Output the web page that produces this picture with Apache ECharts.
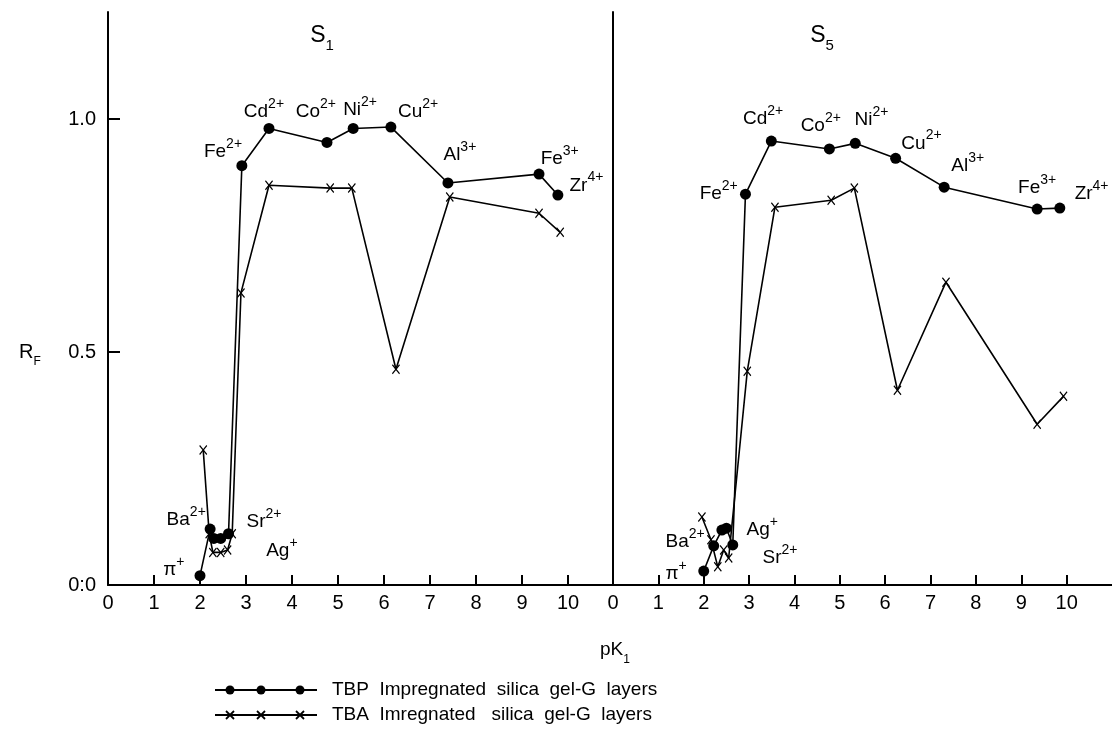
<!DOCTYPE html>
<html>
<head>
<meta charset="utf-8">
<script src="https://cdn.jsdelivr.net/npm/echarts@6/dist/echarts.min.js"></script>
<style>
  html, body { margin: 0; padding: 0; background: #fff; }
  #main { width: 1112px; height: 734px; }
</style>
</head>
<body>
<div id="main"></div>
<script>
// S1 panel, TBP (filled dots) and TBA (x marks): [pK1, Rf]
var tbpS1 = [[2.0, 0.02], [2.22, 0.12], [2.3, 0.10], [2.45, 0.10], [2.62, 0.11], [2.91, 0.90], [3.5, 0.98], [4.76, 0.95], [5.33, 0.98], [6.15, 0.983], [7.39, 0.863], [9.37, 0.882], [9.78, 0.837]];
var tbaS1 = [[2.07, 0.29], [2.2, 0.11], [2.28, 0.07], [2.45, 0.07], [2.6, 0.075], [2.7, 0.11], [2.89, 0.627], [3.5, 0.858], [4.83, 0.852], [5.3, 0.852], [6.26, 0.463], [7.43, 0.833], [9.37, 0.798], [9.83, 0.757]];
// S5 panel
var tbpS5 = [[2.0, 0.03], [2.22, 0.084], [2.4, 0.118], [2.5, 0.122], [2.64, 0.086], [2.92, 0.839], [3.49, 0.953], [4.77, 0.936], [5.34, 0.948], [6.23, 0.916], [7.3, 0.854], [9.35, 0.807], [9.85, 0.809]];
var tbaS5 = [[1.96, 0.146], [2.16, 0.097], [2.31, 0.039], [2.44, 0.075], [2.55, 0.058], [2.96, 0.459], [3.57, 0.811], [4.81, 0.826], [5.32, 0.852], [6.27, 0.418], [7.34, 0.65], [9.35, 0.345], [9.93, 0.405]];

// ion labels: [pK1, Rf, symbol, charge]
var ionsS1 = [[2.5, 0.93, 'Fe', '2+'], [3.39, 1.015, 'Cd', '2+'], [4.52, 1.015, 'Co', '2+'], [5.48, 1.02, 'Ni', '2+'], [6.74, 1.015, 'Cu', '2+'], [7.65, 0.923, 'Al', '3+'], [9.82, 0.915, 'Fe', '3+'], [10.4, 0.858, 'Zr', '4+'], [1.7, 0.14, 'Ba', '2+'], [3.39, 0.135, 'Sr', '2+'], [3.78, 0.073, 'Ag', '+'], [1.43, 0.032, 'π', '+']];
var ionsS5 = [[2.33, 0.839, 'Fe', '2+'], [3.31, 1.0, 'Cd', '2+'], [4.58, 0.985, 'Co', '2+'], [5.7, 0.998, 'Ni', '2+'], [6.8, 0.948, 'Cu', '2+'], [7.82, 0.9, 'Al', '3+'], [9.35, 0.852, 'Fe', '3+'], [10.55, 0.839, 'Zr', '4+'], [1.59, 0.092, 'Ba', '2+'], [3.29, 0.118, 'Ag', '+'], [3.68, 0.058, 'Sr', '2+'], [1.39, 0.024, 'π', '+']];

var xTicks = [0, 1, 2, 3, 4, 5, 6, 7, 8, 9, 10];
var yTicks = [0, 0.5, 1.0];
var yTickLabels = ['0:0', '0.5', '1.0'];

var FONT = 'Liberation Sans';
var INK = '#000';
var crossPath = 'path://M0,1 L1,0 L5,4 L9,0 L10,1 L6,5 L10,9 L9,10 L5,6 L1,10 L0,9 L4,5 Z';

var chart = echarts.init(document.getElementById('main'));

function xAxisCfg(idx) {
    return {
        type: 'value', gridIndex: idx, min: 0, max: 11,
        axisLine: { show: true, lineStyle: { color: INK, width: 2 } },
        axisTick: { show: true, inside: true, length: 10, customValues: xTicks, lineStyle: { color: INK, width: 2 } },
        axisLabel: { show: true, customValues: xTicks, color: INK, fontFamily: FONT, fontSize: 20, margin: 8 },
        splitLine: { show: false }
    };
}
function yAxisCfg(idx, labels) {
    return {
        type: 'value', gridIndex: idx, min: 0, max: 1.23,
        axisLine: { show: true, lineStyle: { color: INK, width: 2 } },
        axisTick: { show: labels, inside: true, length: 12, customValues: yTicks, lineStyle: { color: INK, width: 2 } },
        axisLabel: {
            show: labels, customValues: yTicks, color: INK, fontFamily: FONT, fontSize: 20, margin: 12,
            formatter: function (v) { return yTickLabels[yTicks.indexOf(v)]; }
        },
        splitLine: { show: false }
    };
}

function lineSeries(idx, data, dots) {
    return {
        type: 'line', xAxisIndex: idx, yAxisIndex: idx, data: data,
        symbol: dots ? 'circle' : crossPath,
        symbolSize: dots ? 11 : [8, 10],
        showSymbol: true,
        lineStyle: { color: INK, width: 1.6 },
        itemStyle: { color: INK },
        z: dots ? 3 : 2
    };
}

function ionSeries(idx, ions) {
    return {
        type: 'scatter', xAxisIndex: idx, yAxisIndex: idx, symbolSize: 0, silent: true,
        itemStyle: { color: INK, opacity: 1 },
        data: ions.map(function (d) { return { value: [d[0], d[1]], sym: d[2], chg: d[3] }; }),
        label: {
            show: true, position: 'inside', color: INK, opacity: 1, textBorderWidth: 0, textBorderColor: 'transparent',
            formatter: function (p) { return '{b|' + p.data.sym + '}{s|' + p.data.chg + '}'; },
            rich: {
                b: { fontFamily: FONT, fontSize: 19, lineHeight: 30, color: INK, textBorderWidth: 0 },
                s: { fontFamily: FONT, fontSize: 14, lineHeight: 14, verticalAlign: 'top', color: INK, textBorderWidth: 0 }
            }
        },
        z: 5
    };
}

function legendRow(y, dots, text) {
    var kids = [{ type: 'line', shape: { x1: 215, y1: y, x2: 317, y2: y }, style: { stroke: INK, lineWidth: 1.8 } }];
    [230, 261, 300].forEach(function (x) {
        if (dots) {
            kids.push({ type: 'circle', shape: { cx: x, cy: y, r: 4.5 }, style: { fill: INK } });
        } else {
            kids.push({ type: 'line', shape: { x1: x - 4, y1: y - 4, x2: x + 4, y2: y + 4 }, style: { stroke: INK, lineWidth: 1.8 } });
            kids.push({ type: 'line', shape: { x1: x + 4, y1: y - 4, x2: x - 4, y2: y + 4 }, style: { stroke: INK, lineWidth: 1.8 } });
        }
    });
    kids.push({ type: 'text', x: 332, y: y, style: { text: text, fill: INK, font: '19px ' + FONT, textVerticalAlign: 'middle' } });
    return { type: 'group', children: kids };
}

function subText(x, y, main, sub, big, small) {
    return {
        type: 'text', x: x, y: y,
        style: {
            text: '{b|' + main + '}{d|' + sub + '}',
            textVerticalAlign: 'middle', textAlign: 'center',
            rich: {
                b: { fontFamily: FONT, fontSize: big, lineHeight: big + 12, fill: INK, color: INK },
                d: { fontFamily: FONT, fontSize: small, lineHeight: small, verticalAlign: 'bottom', fill: INK, color: INK }
            }
        }
    };
}

var option = {
    animation: false,
    backgroundColor: '#fff',
    grid: [
        { left: 108, top: 12, width: 506, height: 573 },
        { left: 613, top: 12, width: 505, height: 573 }
    ],
    xAxis: [xAxisCfg(0), xAxisCfg(1)],
    yAxis: [yAxisCfg(0, true), yAxisCfg(1, false)],
    series: [
        lineSeries(0, tbpS1, true), lineSeries(0, tbaS1, false),
        lineSeries(1, tbpS5, true), lineSeries(1, tbaS5, false),
        ionSeries(0, ionsS1), ionSeries(1, ionsS5)
    ],
    graphic: [
        subText(322, 36, 'S', '1', 23, 15),
        subText(822, 36, 'S', '5', 23, 15),
        subText(30, 352, 'R', 'F', 20, 12),
        subText(615, 650, 'pK', '1', 19, 12),
        legendRow(690, true, 'TBP  Impregnated  silica  gel-G  layers'),
        legendRow(715, false, 'TBA  Imregnated   silica  gel-G  layers')
    ]
};
chart.setOption(option);
</script>
</body>
</html>
